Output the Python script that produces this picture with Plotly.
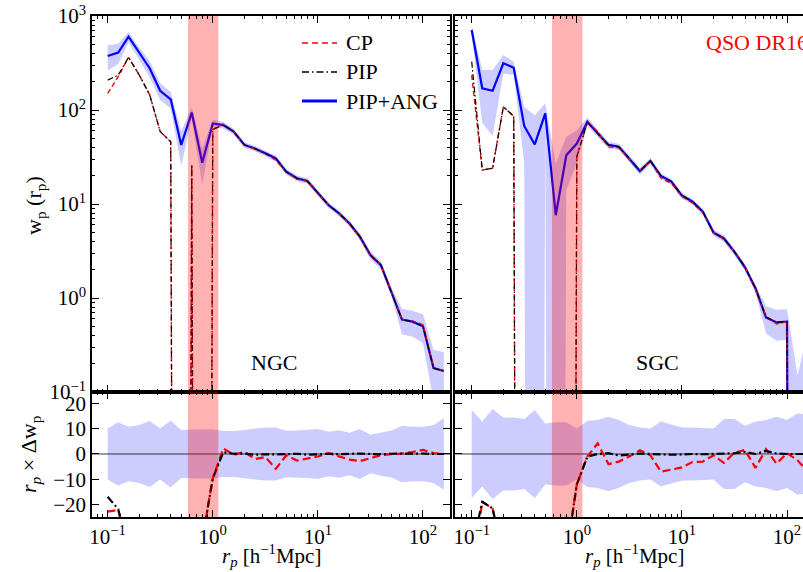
import plotly.graph_objects as go

# ---------------- data ----------------
r_p = [0.1, 0.126, 0.158, 0.2, 0.251, 0.316, 0.398, 0.501, 0.631, 0.794,
       1.0, 1.26, 1.58, 2.0, 2.51, 3.16, 3.98, 5.01, 6.31, 7.94,
       10.0, 12.6, 15.8, 20.0, 25.1, 31.6, 39.8, 50.1, 63.1, 79.4,
       100.0, 126.0, 158.0]

# NGC  w_p(r_p)
ngc_ang = [375, 408, 602, 401, 278, 160, 130, 42.5, 94, 27.5,
           72, 69, 59, 42.5, 39, 34.7, 30.6, 22, 18.8, 17.6,
           13, 9.75, 8.0, 6.2, 4.5, 2.86, 2.24, 1.17, 0.59, 0.56,
           0.50, 0.18, 0.167]
ngc_ang_sig = [112, 100, 75, 60, 55, 32, 26, 17, 14, 11.5,
               7, 5.5, 4.5, 3.0, 2.7, 2.4, 2.1, 1.5, 1.3, 1.2,
               0.9, 0.7, 0.55, 0.45, 0.35, 0.28, 0.22, 0.12, 0.18, 0.17,
               0.17, 0.1, 0.1]
ngc_cp = [150, 226, 363, 235, 145, 59, 46, -20, 26, -16,
          62, 70.7, 58.8, 42.9, 38.2, 34.4, 29.2, 21.9, 18.4, 17.4,
          12.9, 9.77, 7.95, 6.1, 4.39, 2.81, 2.23, 1.17, 0.59, 0.57,
          0.52, 0.18, 0.167]
ngc_pip = [208, 235, 363, 235, 145, 59, 46, -20, 26, -16,
           62, 69.5, 59, 42.6, 38.9, 34.7, 30.6, 22, 18.8, 17.6,
           13, 9.75, 8.0, 6.2, 4.5, 2.86, 2.24, 1.17, 0.59, 0.56,
           0.50, 0.18, 0.167]

# SGC  w_p(r_p)
sgc_ang = [710, 170, 160, 314, 282, 67.6, 43, 92, 7.6, 33,
           44, 75, 56.5, 42.5, 40.7, 30.6, 22.4, 28.7, 19.9, 17.3,
           12.3, 10.6, 8.3, 4.96, 4.3, 3.1, 2.12, 1.27, 0.62, 0.55,
           0.56, -0.1, 0.25]
sgc_ang_sig = [85, 97, 107, 71, 45, 40, 45, 26, 19.4, 19,
               17, 8, 5, 3.5, 3, 2.5, 1.8, 2, 1.4, 1.2,
               0.9, 0.7, 0.6, 0.4, 0.35, 0.25, 0.18, 0.12, 0.2, 0.2,
               0.2, 0.25, 0.2]
sgc_cp = [235, 23, 24, 108, 86, -20, -20, -20, -20, -20,
          32, 74, 59, 40.5, 39.5, 30.3, 22.8, 28.6, 18.8, 16.5,
          12.0, 10.3, 8.1, 4.95, 4.2, 3.1, 2.16, 1.22, 0.64, 0.53,
          0.56, -0.1, 0.25]
sgc_pip = [327, 23, 24, 108, 86, -20, -20, -20, -20, -20,
           32, 74.2, 56.5, 42.5, 40.6, 30.6, 22.4, 28.7, 19.9, 17.3,
           12.3, 10.6, 8.3, 4.96, 4.3, 3.1, 2.14, 1.27, 0.63, 0.55,
           0.56, -0.1, 0.25]

# residuals  r_p x Delta w_p
ngc_res_cp = [-22.8, -22.1, -37.8, -33, -33, -32, -33, -31, -43, -34,
              -9.6, 2.2, -0.3, 0.8, -2.0, -1.2, -5.8, -0.5, -2.6, -1.8,
              -1.0, 0.3, -0.8, -2.2, -2.8, -1.5, -0.5, -0.1, 0.2, 0.8,
              1.6, 0.4, 0.0]
ngc_res_pip = [-16.9, -21.8, -37.8, -33, -33, -32, -33, -31, -43, -34,
               -9.6, 0.7, 0.1, 0.2, -0.3, -0.1, -0.2, 0.0, 0.1, -0.3,
               0.0, 0.1, -0.1, 0.0, 0.2, 0.0, -0.1, 0.1, 0.2, 0.1,
               0.2, 0.0, 0.0]
ngc_res_err = [10.1, 12.5, 10.8, 11.5, 13.0, 10.1, 13.2, 9.5, 9.7, 9.7,
               9.8, 9.1, 9.1, 9.5, 10.1, 10.5, 10.5, 9.2, 9.3, 9.5,
               9.9, 8.8, 9.4, 8.4, 9.9, 7.6, 8.6, 9.3, 11.2, 10.8,
               10.8, 11.5, 14.1]

sgc_res_cp = [-47, -18.9, -21.5, -41, -49, -40, -35, -60, -30, -40,
              -12, -1.0, 4.2, -4.0, -3.0, -1.0, 1.5, -0.5, -7.0, -6.2,
              -5.3, -3.2, -3.0, -0.5, -3.5, 0.5, 1.6, -5.5, 1.9, -3.8,
              0.3, -2.5, -7.0]
sgc_res_pip = [-38, -18.9, -21.5, -41, -49, -40, -35, -60, -30, -40,
               -12, -1.0, 0.0, 0.3, -0.6, -0.3, 0.2, 0.0, -0.2, -0.3,
               -0.2, 0.0, -0.1, 0.1, 0.0, 0.3, 0.8, 0.0, 1.2, 0.2,
               0.0, 0.0, 0.0]
sgc_res_err = [17.4, 12.8, 17.8, 14.4, 14.4, 13.8, 17.4, 12.1, 12.5, 12.5,
               10.1, 13.0, 13.4, 14.7, 13.4, 11.5, 10.5, 10.1, 12.8, 11.5,
               10.5, 10.5, 10.4, 10.1, 13.8, 13.8, 11.2, 12.8, 13.4, 14.7,
               13.4, 16.1, 15.5]

masked_range = [0.58, 1.13]   # shaded r_p interval

major_vals = [0.1, 1, 10, 100]
major_text = ["10<sup>\u22121</sup>", "10<sup>0</sup>", "10<sup>1</sup>", "10<sup>2</sup>"]
ymajor_vals = [0.1, 1, 10, 100, 1000]
ymajor_text = ["10<sup>\u22121</sup>", "10<sup>0</sup>", "10<sup>1</sup>",
               "10<sup>2</sup>", "10<sup>3</sup>"]
res_vals = [-20, -10, 0, 10, 20]
res_text = ["\u221220", "\u221210", "0", "10", "20"]

# ---------------- helpers ----------------
def clip_pos(vals):
    # non-positive values on a log axis are clipped to a tiny number (matplotlib-like)
    return [v if v > 0 else 1e-30 for v in vals]

minor_vals = [m * 10 ** e for e in range(-2, 3) for m in range(2, 10)]

FONT = "Liberation Serif"
BLUE_FILL = "rgba(0,0,255,0.2)"
RED_BAND = "rgba(255,0,0,0.3)"

fig = go.Figure()

panels = [
    ("x", "y", "x3", "y3", ngc_ang, ngc_ang_sig, ngc_cp, ngc_pip,
     ngc_res_cp, ngc_res_pip, ngc_res_err),
    ("x2", "y2", "x4", "y4", sgc_ang, sgc_ang_sig, sgc_cp, sgc_pip,
     sgc_res_cp, sgc_res_pip, sgc_res_err),
]

for xa, ya, xb, yb, ang, sig, cp, pip, rcp, rpip, rerr in panels:
    upper = [w + s for w, s in zip(ang, sig)]
    lower = [w - s for w, s in zip(ang, sig)]
    fig.add_trace(go.Scatter(
        x=r_p + r_p[::-1], y=clip_pos(upper) + clip_pos(lower[::-1]),
        fill="toself", fillcolor=BLUE_FILL, mode="lines", line=dict(width=0),
        xaxis=xa, yaxis=ya, hoverinfo="skip", showlegend=False))
    fig.add_trace(go.Scatter(
        x=r_p, y=clip_pos(ang), mode="lines", line=dict(color="#0000ff", width=2.2),
        xaxis=xa, yaxis=ya, showlegend=False))
    fig.add_trace(go.Scatter(
        x=r_p, y=clip_pos(cp), mode="lines",
        line=dict(color="#ff0000", width=1.4, dash="5px,3px"),
        xaxis=xa, yaxis=ya, showlegend=False))
    fig.add_trace(go.Scatter(
        x=r_p, y=clip_pos(pip), mode="lines",
        line=dict(color="#000000", width=1.2, dash="6px,2.5px,1.5px,2.5px"),
        xaxis=xa, yaxis=ya, showlegend=False))
    fig.add_trace(go.Scatter(
        x=[masked_range[0], masked_range[1], masked_range[1], masked_range[0], masked_range[0]],
        y=[1e-5, 1e-5, 1e5, 1e5, 1e-5], fill="toself", fillcolor=RED_BAND,
        mode="lines", line=dict(width=0), xaxis=xa, yaxis=ya,
        hoverinfo="skip", showlegend=False))

    # residual panel
    fig.add_trace(go.Scatter(
        x=r_p + r_p[::-1], y=rerr + [-e for e in rerr[::-1]],
        fill="toself", fillcolor=BLUE_FILL, mode="lines", line=dict(width=0),
        xaxis=xb, yaxis=yb, hoverinfo="skip", showlegend=False))
    fig.add_trace(go.Scatter(
        x=[0.05, 300], y=[0, 0], mode="lines", line=dict(color="#222222", width=0.9),
        xaxis=xb, yaxis=yb, hoverinfo="skip", showlegend=False))
    fig.add_trace(go.Scatter(
        x=r_p, y=rcp, mode="lines", line=dict(color="#ff0000", width=2.2, dash="8px,4px"),
        xaxis=xb, yaxis=yb, showlegend=False))
    fig.add_trace(go.Scatter(
        x=r_p, y=rpip, mode="lines",
        line=dict(color="#000000", width=2.2, dash="8px,3px,2px,3px"),
        xaxis=xb, yaxis=yb, showlegend=False))
    fig.add_trace(go.Scatter(
        x=[masked_range[0], masked_range[1], masked_range[1], masked_range[0], masked_range[0]],
        y=[-100, -100, 100, 100, -100], fill="toself", fillcolor=RED_BAND,
        mode="lines", line=dict(width=0), xaxis=xb, yaxis=yb,
        hoverinfo="skip", showlegend=False))

# ---------------- layout ----------------
W, H = 803, 572
ML, MR, MT, MB = 92, 0, 16, 55
PW, PH = W - ML - MR, H - MT - MB

def px_x(p):
    return (p - ML) / PW

def px_y(p):
    return (H - MB - p) / PH

left_dom = [0, px_x(450)]
right_dom = [px_x(455), 1]
top_dom = [px_y(392), 1]
bot_dom = [0, px_y(392)]

tickfont = dict(family=FONT, size=21, color="black")
minor = dict(tickvals=minor_vals, ticks="inside", ticklen=3.5, tickwidth=1, tickcolor="black")

def xaxis_cfg(dom, rng, anchor, labels):
    return dict(domain=dom, type="log", range=rng, anchor=anchor,
                tickvals=major_vals, ticktext=major_text, showticklabels=labels,
                ticks="inside", ticklen=7, tickwidth=1.3, tickcolor="black",
                minor=minor, showline=True, linecolor="black", linewidth=1.5,
                mirror="allticks", showgrid=False, zeroline=False, tickfont=tickfont)

rng_left = [-1.149, 2.257]
rng_right = [-1.159, 2.152]

fig.update_layout(
    width=W, height=H,
    margin=dict(l=ML, r=MR, t=MT, b=MB, pad=0),
    paper_bgcolor="white", plot_bgcolor="white",
    font=dict(family=FONT, size=21, color="black"),
    showlegend=False,
    xaxis=xaxis_cfg(left_dom, rng_left, "y", False),
    xaxis2=xaxis_cfg(right_dom, rng_right, "y2", False),
    xaxis3=xaxis_cfg(left_dom, rng_left, "y3", True),
    xaxis4=xaxis_cfg(right_dom, rng_right, "y4", True),
    yaxis=dict(domain=top_dom, type="log", range=[-1, 3], anchor="x",
               tickvals=ymajor_vals, ticktext=ymajor_text,
               ticks="inside", ticklen=7, tickwidth=1.3, tickcolor="black",
               minor=dict(tickvals=minor_vals + [m * 1000 for m in range(2, 10)],
                          ticks="inside", ticklen=3.5, tickwidth=1, tickcolor="black"),
               showline=True, linecolor="black", linewidth=1.5, mirror="allticks",
               showgrid=False, zeroline=False, tickfont=tickfont),
    yaxis2=dict(domain=top_dom, type="log", range=[-1, 3], anchor="x2",
                tickvals=ymajor_vals, showticklabels=False,
                ticks="inside", ticklen=7, tickwidth=1.3, tickcolor="black",
                minor=dict(tickvals=minor_vals + [m * 1000 for m in range(2, 10)],
                           ticks="inside", ticklen=3.5, tickwidth=1, tickcolor="black"),
                showline=True, linecolor="black", linewidth=1.5, mirror=False,
                showgrid=False, zeroline=False),
    yaxis3=dict(domain=bot_dom, range=[-24.9, 24.5], anchor="x3",
                tickvals=res_vals, ticktext=res_text,
                ticks="inside", ticklen=7, tickwidth=1.3, tickcolor="black",
                showline=True, linecolor="black", linewidth=1.5, mirror="allticks",
                showgrid=False, zeroline=False, tickfont=tickfont),
    yaxis4=dict(domain=bot_dom, range=[-24.9, 24.5], anchor="x4",
                tickvals=res_vals, showticklabels=False,
                ticks="inside", ticklen=7, tickwidth=1.3, tickcolor="black",
                showline=True, linecolor="black", linewidth=1.5, mirror=False,
                showgrid=False, zeroline=False),
)

ann_font = dict(family=FONT, size=22, color="black")
title_font = dict(family=FONT, size=21, color="black")
annotations = [
    dict(x=px_x(274), y=px_y(362), text="NGC"),
    dict(x=px_x(657), y=px_y(362), text="SGC"),
    dict(x=px_x(704), y=px_y(43), text="QSO DR16", xanchor="left",
         font=dict(family=FONT, size=22, color="#ff0000")),
    dict(x=px_x(35), y=px_y(205), text="w<sub>p</sub> (r<sub>p</sub>)", textangle=-90),
    dict(x=px_x(30), y=px_y(454), text="<i>r</i><sub><i>p</i></sub> \u00d7 \u0394w<sub>p</sub>",
         textangle=-90),
    dict(x=px_x(271), y=px_y(555), text="<i>r</i><sub><i>p</i></sub> [h<sup>\u22121</sup>Mpc]",
         font=title_font),
    dict(x=px_x(634), y=px_y(555), text="<i>r</i><sub><i>p</i></sub> [h<sup>\u22121</sup>Mpc]",
         font=title_font),
    # legend texts
    dict(x=px_x(344), y=px_y(43), text="CP", xanchor="left"),
    dict(x=px_x(344), y=px_y(72), text="PIP", xanchor="left"),
    dict(x=px_x(344), y=px_y(101), text="PIP+ANG", xanchor="left"),
]
for a in annotations:
    a.setdefault("xanchor", "center")
    a.setdefault("yanchor", "middle")
    a.setdefault("font", ann_font)
    a.update(xref="paper", yref="paper", showarrow=False)
fig.update_layout(annotations=annotations)

legend_lines = [
    (43, dict(color="#ff0000", width=1.5, dash="6px,4px")),
    (72, dict(color="#000000", width=1.3, dash="7px,3px,1.5px,3px")),
    (101, dict(color="#0000ff", width=3)),
]
shapes = []
for yy, ln in legend_lines:
    shapes.append(dict(type="line", xref="paper", yref="paper",
                       x0=px_x(302), x1=px_x(337), y0=px_y(yy), y1=px_y(yy), line=ln))
fig.update_layout(shapes=shapes)

fig.write_html("out.html")
